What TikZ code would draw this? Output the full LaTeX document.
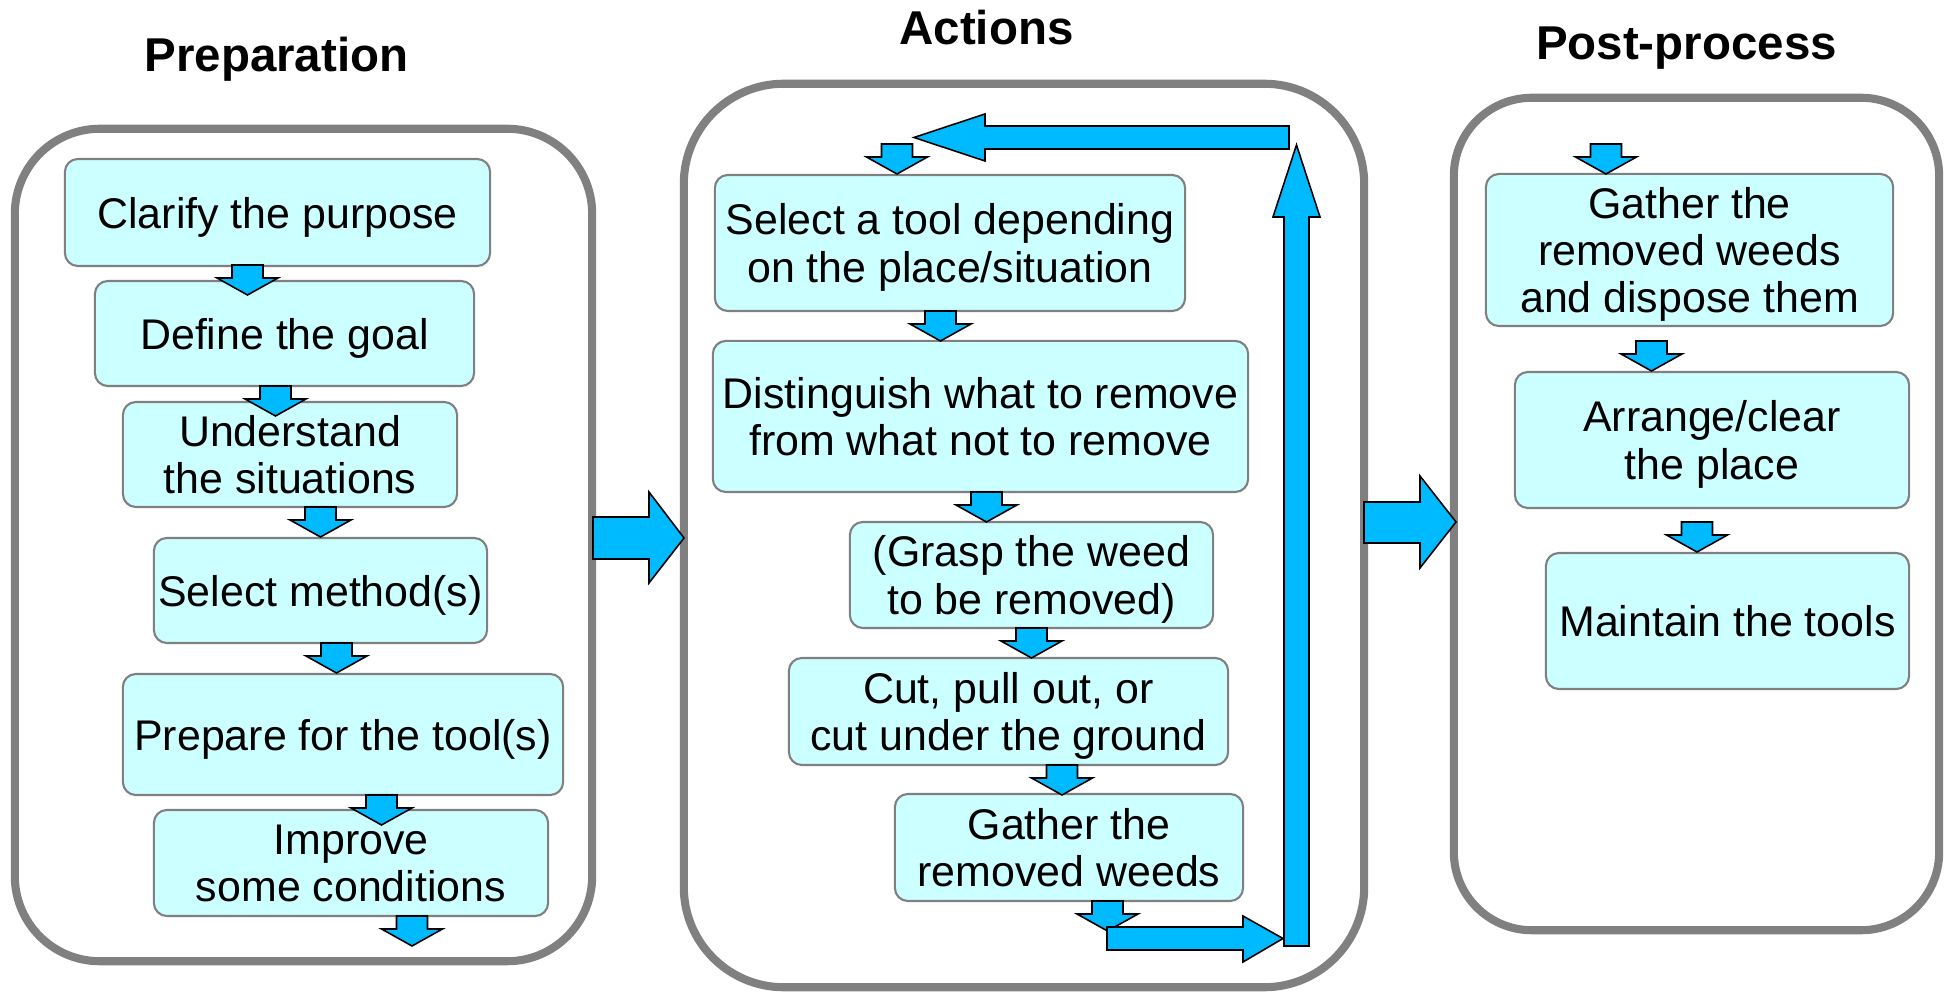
\documentclass[tikz,border=0pt]{standalone}
\usepackage{fontspec}
\setmainfont{Liberation Sans}
\definecolor{boxfill}{HTML}{CCFFFF}
\definecolor{edgegray}{HTML}{808080}
\definecolor{arrowblue}{HTML}{00BAFF}
\begin{document}
\begin{tikzpicture}[x=0.01cm, y=-0.01cm,
  panel/.style={draw=edgegray, line width=2.3pt, rounded corners=#1, inner sep=0pt},
  stepbox/.style={draw=edgegray, line width=0.6pt, fill=boxfill, rounded corners=0.13cm,
    inner sep=0pt, align=center, text depth=0pt, font=\fontsize{12.2}{13.4}\selectfont},
  title/.style={font=\bfseries\fontsize{13.5}{16}\selectfont, anchor=base},
  blockarrow/.style={draw=black, line width=0.45pt, fill=arrowblue, line join=miter},
  darrow/.pic={\path[blockarrow] (-15.5,0) -- (15.5,0) -- (15.5,13) -- (30.5,13) -- (0,30)
     -- (-30.5,13) -- (-15.5,13) -- cycle;}
]
\path[fill=white] (0,0) rectangle (1950,992);
\useasboundingbox (0,0) rectangle (1950,992);

% titles
\node[title] (tprep) at (276.5,72) {Preparation};
\node[title] (tact) at (986.5,45) {Actions};
\node[title] (tpost) at (1686.5,60) {Post-process};

% panels
\node[panel=0.85cm, minimum width=5.77cm, minimum height=8.32cm] (prep) at (303.5,545) {};
\node[panel=1.0cm, minimum width=6.80cm, minimum height=9.03cm] (act) at (1024,535.5) {};
\node[panel=0.78cm, minimum width=4.85cm, minimum height=8.32cm] (post) at (1696.5,514) {};

% preparation steps
\node[stepbox, minimum width=4.25cm, minimum height=1.07cm] (c1) at (277.5,212.5) {Clarify the purpose};
\node[stepbox, minimum width=3.79cm, minimum height=1.05cm] (c2) at (284.5,333.5) {Define the goal};
\node[stepbox, minimum width=3.34cm, minimum height=1.05cm] (c3) at (290,454.5) {Understand\\the situations};
\node[stepbox, minimum width=3.33cm, minimum height=1.05cm] (c4) at (320.5,590.5) {Select method(s)};
\node[stepbox, minimum width=4.40cm, minimum height=1.21cm] (c5) at (343,734.5) {Prepare for the tool(s)};
\node[stepbox, minimum width=3.94cm, minimum height=1.06cm] (c6) at (351,863) {Improve\\some conditions};

\pic at (247.5,265) {darrow};
\pic at (275.5,386) {darrow};
\pic at (320.5,507) {darrow};
\pic at (336.5,643) {darrow};
\pic at (381.5,795) {darrow};
\pic at (412,916) {darrow};

% action steps
\node[stepbox, minimum width=4.70cm, minimum height=1.36cm] (m1) at (950,243) {Select a tool depending\\on the place/situation};
\node[stepbox, minimum width=5.35cm, minimum height=1.51cm] (m2) at (980.5,416.5) {Distinguish what to remove\\from what not to remove};
\node[stepbox, minimum width=3.63cm, minimum height=1.06cm] (m3) at (1031.5,575) {(Grasp the weed\\to be removed)};
\node[stepbox, minimum width=4.39cm, minimum height=1.07cm] (m4) at (1008.5,711.5) {Cut, pull out, or\\cut under the ground};
\node[stepbox, minimum width=3.48cm, minimum height=1.07cm] (m5) at (1069,847.5) {Gather the\\removed weeds};

\pic at (897,144) {darrow};
\pic at (940.5,311) {darrow};
\pic at (986.5,492) {darrow};
\pic at (1031.5,628) {darrow};
\pic at (1062,765) {darrow};
\pic at (1107.5,901) {darrow};

% loop arrows
\path[blockarrow] (1107,927) -- (1243,927) -- (1243,916) -- (1283,938.5) -- (1243,962) -- (1243,950) -- (1107,950) -- cycle;
\path[blockarrow] (1284,946) -- (1284,217) -- (1273,217) -- (1296.5,145) -- (1320,217) -- (1309,217) -- (1309,946) -- cycle;
\path[blockarrow] (1289,126) -- (985,126) -- (985,114) -- (914,137.5) -- (985,161) -- (985,149) -- (1289,149) -- cycle;

% post-process steps
\node[stepbox, minimum width=4.07cm, minimum height=1.52cm] (r1) at (1689.5,250) {Gather the\\removed weeds\\and dispose them};
\node[stepbox, minimum width=3.94cm, minimum height=1.36cm] (r2) at (1712,440) {Arrange/clear\\the place};
\node[stepbox, minimum width=3.63cm, minimum height=1.36cm] (r3) at (1727.5,621) {Maintain the tools};

\pic at (1606,144) {darrow};
\pic at (1651.5,341) {darrow};
\pic at (1697,522) {darrow};

% arrows between panels
\path[blockarrow] (593,517) -- (649,517) -- (649,492) -- (684,538) -- (649,583) -- (649,559) -- (593,559) -- cycle;
\path[blockarrow] (1364,502) -- (1420,502) -- (1420,476) -- (1456,522) -- (1420,568) -- (1420,543) -- (1364,543) -- cycle;
\end{tikzpicture}
\end{document}
